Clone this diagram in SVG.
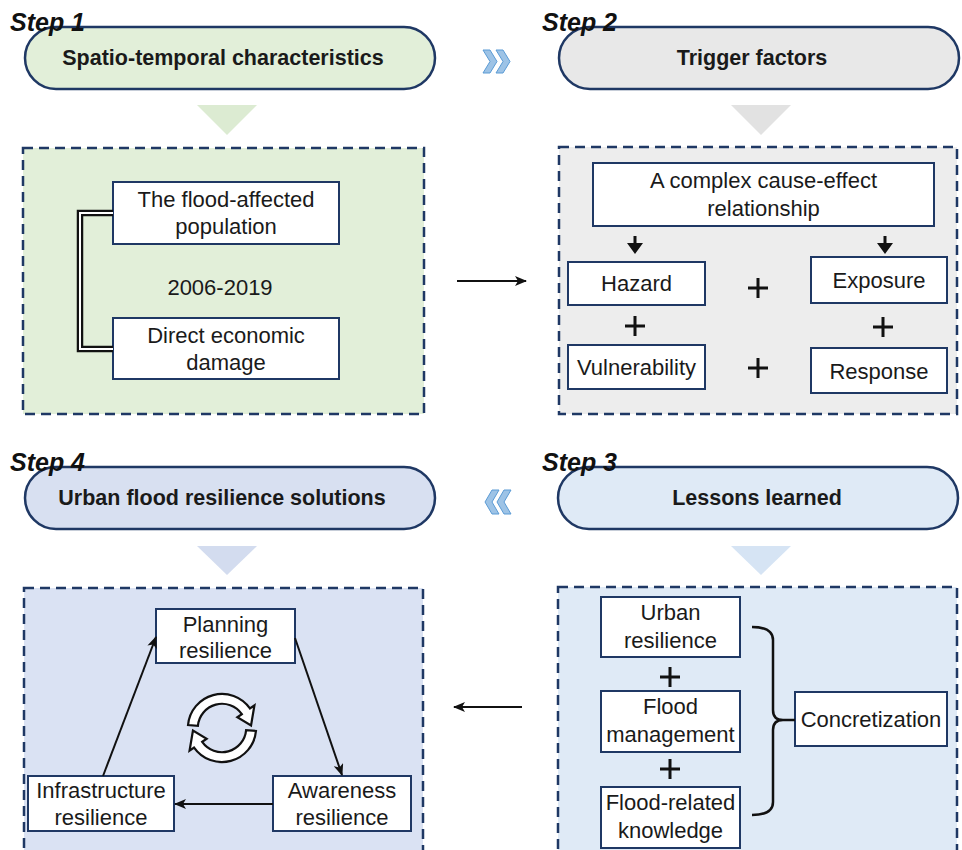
<svg xmlns="http://www.w3.org/2000/svg" width="962" height="850" viewBox="0 0 962 850">
<defs>
<style>
.pill{stroke:#1f3864;stroke-width:2.5}
.dash{stroke:#1f3864;stroke-width:2.5;stroke-dasharray:10 6}
.box{fill:#fff;stroke:#1f3864;stroke-width:2}
.t{font-family:"Liberation Sans",Arial,sans-serif;font-size:22px;fill:#1a1a1a;text-anchor:middle}
.h{font-weight:bold;font-size:21.5px}
.step{font-family:"Liberation Sans",Arial,sans-serif;font-style:italic;font-weight:bold;font-size:25px;fill:#111}
.plus{stroke:#111;stroke-width:3}
.chev{fill:#9dc3e6;stroke:#5b9bd5;stroke-width:1}
.ln{stroke:#111;stroke-width:2;fill:none}
.rc{fill:#fff;stroke:#111;stroke-width:2;stroke-linejoin:miter}
</style>
<marker id="ah" viewBox="0 0 12 10" refX="11" refY="5" markerWidth="12" markerHeight="10" markerUnits="userSpaceOnUse" orient="auto">
<path d="M0,0 L12,5 L0,10 L3,5 Z" fill="#111"/>
</marker>
</defs>
<rect width="962" height="850" fill="#fff"/>

<!-- Step 1 -->
<g id="step1">
<rect class="pill" x="25" y="27" width="410" height="62" rx="31" fill="#e2efd9"/>
<text class="t h" x="223" y="65">Spatio-temporal characteristics</text>
<text class="step" x="10" y="31">Step 1</text>
<polygon points="197,105 257,105 227,135" fill="#dcebd2"/>
</g>
<g id="step1-panel">
<rect class="dash" x="23" y="148" width="401" height="266" fill="#e2efd9"/>
</g>
<g id="flood-population">
<rect class="box" x="113" y="182" width="226" height="62"/>
<text class="t" x="226" y="207">The flood-affected</text>
<text class="t" x="226" y="234">population</text>
</g>
<g id="economic-damage">
<rect class="box" x="113" y="318" width="226" height="61"/>
<text class="t" x="226" y="343">Direct economic</text>
<text class="t" x="226" y="370">damage</text>
</g>
<g id="period">
<text class="t" x="220" y="295">2006-2019</text>
</g>

<!-- Step 2 -->
<g id="step2">
<rect class="pill" x="559" y="27" width="400" height="62" rx="31" fill="#e8e8e8"/>
<text class="t h" x="752" y="65">Trigger factors</text>
<text class="step" x="542" y="31">Step 2</text>
<polygon points="731,105 791,105 761,135" fill="#e2e2e2"/>
</g>
<g id="step2-panel">
<rect class="dash" x="559" y="147" width="398" height="267" fill="#ededed"/>
</g>
<g id="cause-effect">
<rect class="box" x="593" y="163" width="341" height="63"/>
<text class="t" x="763.5" y="188">A complex cause-effect</text>
<text class="t" x="763.5" y="216">relationship</text>
</g>
<g id="hazard">
<rect class="box" x="568" y="262" width="137" height="43"/>
<text class="t" x="636.5" y="291">Hazard</text>
</g>
<g id="exposure">
<rect class="box" x="811" y="257" width="136" height="46"/>
<text class="t" x="879" y="288">Exposure</text>
</g>
<g id="vulnerability">
<rect class="box" x="568" y="345" width="137" height="44"/>
<text class="t" x="636.5" y="375">Vulnerability</text>
</g>
<g id="response">
<rect class="box" x="811" y="348" width="136" height="45"/>
<text class="t" x="879" y="379">Response</text>
</g>
<g id="plus-signs-2">
<path class="plus" d="M748,288 H768 M758,278 V298"/>
<path class="plus" d="M625,326 H645 M635,316 V336"/>
<path class="plus" d="M873,327 H893 M883,317 V337"/>
<path class="plus" d="M748,368 H768 M758,358 V378"/>
</g>

<!-- Step 4 -->
<g id="step4">
<rect class="pill" x="25" y="467" width="410" height="62" rx="31" fill="#d8e0f1"/>
<text class="t h" x="222" y="505">Urban flood resilience solutions</text>
<text class="step" x="10" y="471">Step 4</text>
<polygon points="197,546 257,546 227,575" fill="#d3dcef"/>
</g>
<g id="step4-panel">
<rect class="dash" x="24" y="588" width="399" height="275" fill="#dae2f3"/>
</g>
<g id="planning">
<rect class="box" x="156" y="609" width="139" height="54"/>
<text class="t" x="225.5" y="632">Planning</text>
<text class="t" x="225.5" y="658">resilience</text>
</g>
<g id="infrastructure">
<rect class="box" x="28" y="776" width="146" height="55"/>
<text class="t" x="101" y="798">Infrastructure</text>
<text class="t" x="101" y="825">resilience</text>
</g>
<g id="awareness">
<rect class="box" x="273" y="776" width="138" height="55"/>
<text class="t" x="342" y="798">Awareness</text>
<text class="t" x="342" y="825">resilience</text>
</g>
<g id="cycle-icon" transform="translate(222,728) scale(1.1) translate(-222,-728)">
<path class="rc" d="M191.12,725.30 A31,31 0 0 1 247.39,710.22 L251.49,707.35 L248.40,725.69 L235.93,718.25 L240.02,715.38 A22,22 0 0 0 200.08,726.08 Z"/>
<path class="rc" d="M252.88,730.70 A31,31 0 0 1 196.61,745.78 L192.51,748.65 L195.60,730.31 L208.07,737.75 L203.98,740.62 A22,22 0 0 0 243.92,729.92 Z"/>
</g>

<!-- Step 3 -->
<g id="step3">
<rect class="pill" x="558" y="467" width="400" height="62" rx="31" fill="#dfeaf6"/>
<text class="t h" x="757" y="505">Lessons learned</text>
<text class="step" x="542" y="471">Step 3</text>
<polygon points="731,546 791,546 761,575" fill="#d6e4f4"/>
</g>
<g id="step3-panel">
<rect class="dash" x="558" y="587" width="399" height="276" fill="#dfeaf6"/>
</g>
<g id="urban-resilience">
<rect class="box" x="601" y="597" width="139" height="60"/>
<text class="t" x="670.5" y="620">Urban</text>
<text class="t" x="670.5" y="648">resilience</text>
</g>
<g id="flood-management">
<rect class="box" x="601" y="691" width="139" height="61"/>
<text class="t" x="670.5" y="714">Flood</text>
<text class="t" x="670.5" y="742">management</text>
</g>
<g id="flood-knowledge">
<rect class="box" x="601" y="787" width="139" height="61"/>
<text class="t" x="670.5" y="810">Flood-related</text>
<text class="t" x="670.5" y="838">knowledge</text>
</g>
<g id="concretization">
<rect class="box" x="795" y="692" width="152" height="54"/>
<text class="t" x="871" y="727">Concretization</text>
</g>
<g id="plus-signs-3">
<path class="plus" d="M660,677 H680 M670,667 V687"/>
<path class="plus" d="M660,769 H680 M670,759 V779"/>
</g>

<!-- chevrons -->
<g id="chevron-right">
<polygon class="chev" points="483,50 490,50 497,61.5 490,73 483,73 490,61.5"/>
<polygon class="chev" points="496,50 503,50 510,61.5 503,73 496,73 503,61.5"/>
</g>
<g id="chevron-left">
<polygon class="chev" points="511,490 504,490 497,502 504,514 511,514 504,502"/>
<polygon class="chev" points="499,490 492,490 485,502 492,514 499,514 492,502"/>
</g>

<!-- connectors -->
<g id="connectors">
<path d="M113,213 H80 V349 H113" fill="none" stroke="#111" stroke-width="6.5"/>
<path d="M113,213 H80 V349 H113" fill="none" stroke="#fff" stroke-width="2"/>
<path d="M633.5,236 H636.5 V243 H643 L635,254 L627,243 H633.5 Z" fill="#111"/>
<path d="M883.5,236 H886.5 V243 H893 L885,254 L877,243 H883.5 Z" fill="#111"/>
<line class="ln" x1="457" y1="281" x2="526" y2="281" marker-end="url(#ah)"/>
<line class="ln" x1="522" y1="707" x2="454" y2="707" marker-end="url(#ah)"/>
<line class="ln" x1="103" y1="776" x2="156" y2="637" marker-end="url(#ah)"/>
<line class="ln" x1="295" y1="638" x2="342" y2="775" marker-end="url(#ah)"/>
<line class="ln" x1="273" y1="804" x2="175" y2="804" marker-end="url(#ah)"/>
<path d="M752,627 Q773,627 773,640 V710 Q773,720 783,720 Q773,720 773,730 V802 Q773,815 752,815 M783,720 H795" fill="none" stroke="#111" stroke-width="2.5"/>
</g>
</svg>
